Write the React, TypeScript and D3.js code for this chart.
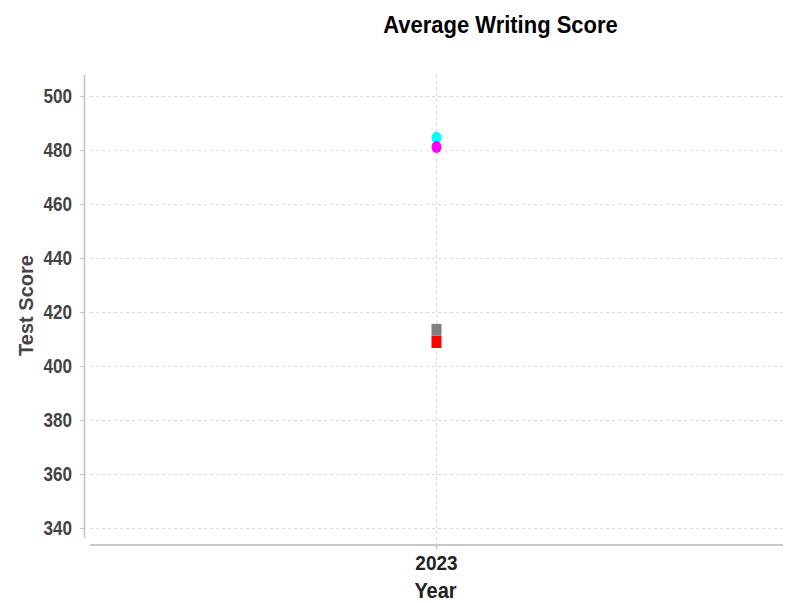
import React from "react";
import * as d3 from "d3";

const years = ["2023"];
const seriesNames = ["Group A", "Group B", "Group C", "Group D"];
const seriesValues = [484.8, 481.3, 413.6, 409.1];
const seriesColors = ["#00ffff", "#ff00ff", "#808080", "#ff0000"];
const seriesShapes = ["circle", "circle", "square", "square"];
const yTicks = [340, 360, 380, 400, 420, 440, 460, 480, 500];
const yDomain = [336.5, 508];

const W = 789;
const H = 603;

export default function App() {
  const y = d3.scaleLinear().domain(yDomain).range([538, 75]);
  const x = d3.scalePoint<string>().domain(years).range([90, 783]).padding(0.5);
  const sym = d3.symbol();
  const font = "'Liberation Sans', Arial, sans-serif";
  return (
    <svg width={W} height={H} style={{ position: "absolute", left: 0, top: 0, background: "#fff" }}>
      {/* grid */}
      {yTicks.map((t) => (
        <line key={"g" + t} x1={90} x2={783} y1={y(t)} y2={y(t)} stroke="#d9d9d9" strokeWidth={1} strokeDasharray="3,3" />
      ))}
      {years.map((yr) => (
        <line key={"vg" + yr} x1={x(yr)} x2={x(yr)} y1={75} y2={545} stroke="#d9d9d9" strokeWidth={1} strokeDasharray="3,3" />
      ))}
      {/* y axis */}
      <line x1={84.5} x2={84.5} y1={75} y2={538} stroke="#c0c0c0" strokeWidth={1.5} />
      {yTicks.map((t) => (
        <g key={"t" + t}>
          <line x1={80} x2={84} y1={y(t)} y2={y(t)} stroke="#c0c0c0" strokeWidth={1} />
          <text
            transform={`translate(72,${y(t) + 6.5}) scale(0.95,1.1)`}
            textAnchor="end"
            fontFamily={font}
            fontWeight="bold"
            fontSize={18}
            fill="#444"
          >
            {t}
          </text>
        </g>
      ))}
      {/* x axis */}
      <line x1={90} x2={783} y1={545} y2={545} stroke="#c8c8c8" strokeWidth={2} />
      {years.map((yr) => (
        <g key={"xt" + yr}>
          <line x1={x(yr)} x2={x(yr)} y1={545} y2={549} stroke="#c0c0c0" strokeWidth={1} />
          <text
            transform={`translate(${x(yr)},570) scale(1,1.1)`}
            textAnchor="middle"
            fontFamily={font}
            fontWeight="bold"
            fontSize={19}
            fill="#222"
          >
            {yr}
          </text>
        </g>
      ))}
      {/* marks (slightly taller than wide, as in the reference) */}
      {seriesValues.map((v, i) => {
        const cx = x(years[0]) as number;
        const cy = y(v);
        const path =
          seriesShapes[i] === "circle"
            ? sym.type(d3.symbolCircle).size(Math.PI * 5 * 5)()
            : sym.type(d3.symbolSquare).size(10 * 10)();
        return (
          <path
            key={seriesNames[i]}
            d={path as string}
            transform={`translate(${cx},${cy}) scale(1,1.2)`}
            fill={seriesColors[i]}
          />
        );
      })}
      {/* title */}
      <text
        transform="translate(500.5,33) scale(1,1.08)"
        textAnchor="middle"
        fontFamily={font}
        fontWeight="bold"
        fontSize={22}
        fill="#000"
      >
        Average Writing Score
      </text>
      {/* axis labels */}
      <text
        transform="translate(33,305.5) rotate(-90)"
        textAnchor="middle"
        fontFamily={font}
        fontWeight="bold"
        fontSize={20}
        fill="#444"
      >
        Test Score
      </text>
      <text
        transform="translate(435.5,598) scale(1,1.08)"
        textAnchor="middle"
        fontFamily={font}
        fontWeight="bold"
        fontSize={20}
        fill="#222"
      >
        Year
      </text>
    </svg>
  );
}
